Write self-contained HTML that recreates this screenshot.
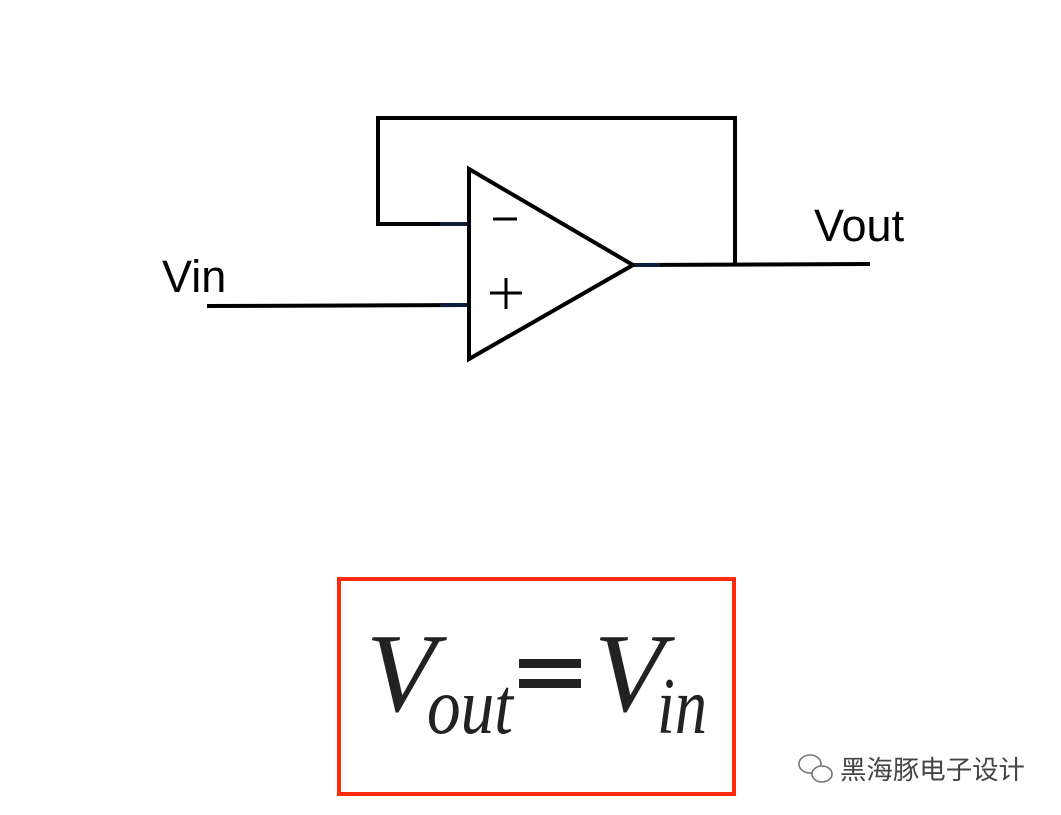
<!DOCTYPE html>
<html><head><meta charset="utf-8"><style>
html,body{margin:0;padding:0;background:#fff;}
body{width:1061px;height:815px;position:relative;overflow:hidden;}
</style></head><body>
<svg width="1061" height="815" style="position:absolute;left:0;top:0">
<g fill="none" stroke="#000" stroke-width="4" stroke-linejoin="miter">
<polyline points="469,224 378,224 378,118 735,118 735,265"/>
<polygon points="469,169 469,359 633,265"/>
<line x1="207" y1="306" x2="469" y2="305"/>
<line x1="633" y1="265" x2="870" y2="264"/>
</g>
<line x1="440" y1="224" x2="467" y2="224" stroke="#0b1e3a" stroke-width="4"/>
<line x1="440" y1="305" x2="467" y2="305" stroke="#0b1e3a" stroke-width="4"/>
<line x1="635" y1="265" x2="660" y2="265" stroke="#0b1e3a" stroke-width="4"/>
<line x1="493" y1="219" x2="517" y2="219" stroke="#000" stroke-width="3"/>
<line x1="490" y1="293" x2="522" y2="293" stroke="#000" stroke-width="3"/>
<line x1="506" y1="278" x2="506" y2="309" stroke="#000" stroke-width="3"/>
<text x="162" y="292" font-family="Liberation Sans, sans-serif" font-size="45" fill="#000">Vin</text>
<text x="814" y="241" font-family="Liberation Sans, sans-serif" font-size="45" fill="#000">Vout</text>
<rect x="339" y="579" width="395" height="215" fill="none" stroke="#ff2a0a" stroke-width="4"/>
<g font-family="Liberation Serif, serif" font-style="italic" fill="#222">
<text x="366" y="711" font-size="112" textLength="70" lengthAdjust="spacingAndGlyphs">V</text>
<text x="427" y="733" font-size="80" textLength="86" lengthAdjust="spacingAndGlyphs">out</text>
<text x="594" y="711" font-size="112" textLength="70" lengthAdjust="spacingAndGlyphs">V</text>
<text x="657" y="733" font-size="80" textLength="50" lengthAdjust="spacingAndGlyphs">in</text>
</g>
<rect x="519" y="659" width="62" height="9" fill="#222"/>
<rect x="519" y="679" width="62" height="9" fill="#222"/>
<g fill="none" stroke="#777" stroke-width="1.6">
<ellipse cx="810" cy="764" rx="11" ry="9"/>
<ellipse cx="822" cy="774" rx="10" ry="8" fill="#fff"/>
</g>
<text x="840" y="779" font-family="Liberation Sans, 'Noto Sans CJK SC', sans-serif" font-size="26" fill="#444" textLength="185" lengthAdjust="spacingAndGlyphs">黑海豚电子设计</text>
</svg>
</body></html>
